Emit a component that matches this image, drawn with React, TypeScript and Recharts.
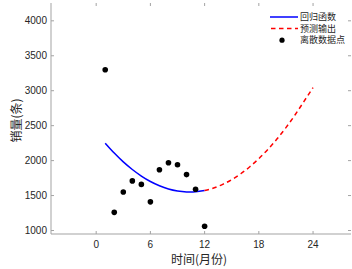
import React from 'react';
import { ComposedChart, Line, Scatter, XAxis, YAxis, Legend } from 'recharts';

// observed monthly sales
const months = [1, 2, 3, 4, 5, 6, 7, 8, 9, 10, 11, 12];
const sales = [3300, 1260, 1550, 1710, 1660, 1410, 1870, 1970, 1940, 1800, 1590, 1060];

// regression curve
const fitMonths = [1, 2, 3, 4, 5, 6, 7, 8, 9, 10, 11, 12];
const fitSales = [2250, 2108, 1982, 1873, 1779, 1701, 1640, 1594, 1565, 1551, 1553, 1572];

// forecast part of the curve
const forecastMonths = [12, 13, 14, 15, 16, 17, 18, 19, 20, 21, 22, 23, 24];
const forecastSales = [1572, 1608, 1660, 1728, 1812, 1912, 2028, 2160, 2308, 2472, 2652, 2848, 3045];

const xTicks = [0, 6, 12, 18, 24];
const yTicks = [1000, 1500, 2000, 2500, 3000, 3500, 4000];
const seriesNames = ['回归函数', '预测输出', '离散数据点'];

const X_DOMAIN: [number, number] = [-5, 28.2];
const Y_DOMAIN: [number, number] = [950, 4255];

const PLOT_LEFT = 51;
const PLOT_RIGHT = 351;
const PLOT_TOP = 3;
const PLOT_BOTTOM = 234;
const TICK = 3;

const AXIS = '#a3a3a3';
const TEXT = '#262626';
const NUM_FONT = '"Liberation Sans", Arial, sans-serif';
const CJK_FONT = '"Noto Sans CJK SC", sans-serif';
const DASH = '4.5 3.5';

const toPoints = (xs: number[], ys: number[]) => xs.map((x, i) => ({ x, y: ys[i] }));

const scatterData = toPoints(months, sales);
const fitData = toPoints(fitMonths, fitSales);
const forecastData = toPoints(forecastMonths, forecastSales);

const renderXTick = (props: any) => {
  const { x, payload } = props;
  return (
    <g>
      <line x1={x} x2={x} y1={PLOT_BOTTOM} y2={PLOT_BOTTOM - TICK} stroke={AXIS} />
      <line x1={x} x2={x} y1={PLOT_TOP} y2={PLOT_TOP + TICK} stroke={AXIS} />
      <text x={x} y={248} textAnchor="middle" fontSize={10} fontFamily={NUM_FONT} fill={TEXT}>
        {payload.value}
      </text>
    </g>
  );
};

const renderYTick = (props: any) => {
  const { y, payload } = props;
  return (
    <g>
      <line x1={PLOT_LEFT} x2={PLOT_LEFT + TICK} y1={y} y2={y} stroke={AXIS} />
      <line x1={PLOT_RIGHT} x2={PLOT_RIGHT - TICK} y1={y} y2={y} stroke={AXIS} />
      <text x={47} y={y} dy="0.35em" textAnchor="end" fontSize={10} fontFamily={NUM_FONT} fill={TEXT}>
        {payload.value}
      </text>
    </g>
  );
};

const renderLegend = () => (
  <svg width={84} height={40} style={{ display: 'block' }}>
    {seriesNames.map((name, i) => {
      const cy = 9 + i * 11.6;
      return (
        <g key={name}>
          {i === 0 && <line x1={2} x2={30} y1={cy} y2={cy} stroke="#0000ff" strokeWidth={1.5} />}
          {i === 1 && (
            <line x1={3} x2={30} y1={cy} y2={cy} stroke="#ff0000" strokeWidth={1.5} strokeDasharray={DASH} />
          )}
          {i === 2 && <circle cx={14} cy={cy} r={2.6} fill="#000" />}
          <text x={32} y={cy} dy="0.35em" fontSize={9} fontFamily={CJK_FONT} fill={TEXT}>
            {name}
          </text>
        </g>
      );
    })}
  </svg>
);

const Dot = (props: any) => <circle cx={props.cx} cy={props.cy} r={2.8} fill="#000" />;

export default function App() {
  return (
    <div style={{ position: 'absolute', left: 0, top: 0, background: '#fff' }}>
      <ComposedChart width={352} height={269} margin={{ top: PLOT_TOP, right: 1, bottom: 0, left: 0 }}>
        <XAxis
          type="number"
          dataKey="x"
          domain={X_DOMAIN}
          ticks={xTicks}
          interval={0}
          height={35}
          allowDataOverflow
          stroke={AXIS}
          tickLine={false}
          tick={renderXTick}
        />
        <XAxis
          xAxisId="top"
          orientation="top"
          type="number"
          domain={X_DOMAIN}
          height={0}
          allowDataOverflow
          stroke={AXIS}
          tick={false}
          tickLine={false}
        />
        <YAxis
          type="number"
          domain={Y_DOMAIN}
          ticks={yTicks}
          interval={0}
          width={PLOT_LEFT}
          allowDataOverflow
          stroke={AXIS}
          tickLine={false}
          tick={renderYTick}
        />
        <YAxis
          yAxisId="right"
          orientation="right"
          type="number"
          domain={Y_DOMAIN}
          width={0}
          allowDataOverflow
          stroke={AXIS}
          tick={false}
          tickLine={false}
        />
        <Legend
          layout="vertical"
          align="center"
          verticalAlign="middle"
          content={renderLegend}
          wrapperStyle={{ left: 268, top: 8, width: 84, height: 40 }}
        />
        <Line
          data={fitData}
          dataKey="y"
          name={seriesNames[0]}
          type="natural"
          stroke="#0000ff"
          strokeWidth={1.5}
          dot={false}
          activeDot={false}
          isAnimationActive={false}
        />
        <Line
          data={forecastData}
          dataKey="y"
          name={seriesNames[1]}
          type="natural"
          stroke="#ff0000"
          strokeWidth={1.5}
          strokeDasharray={DASH}
          dot={false}
          activeDot={false}
          isAnimationActive={false}
        />
        <Scatter
          data={scatterData}
          dataKey="y"
          name={seriesNames[2]}
          fill="#000"
          shape={Dot}
          isAnimationActive={false}
        />
        <text
          x={15}
          y={(PLOT_TOP + PLOT_BOTTOM) / 2 + 2}
          transform={`rotate(-90, 15, ${(PLOT_TOP + PLOT_BOTTOM) / 2 + 2})`}
          textAnchor="middle"
          dominantBaseline="central"
          fontSize={12}
          fontFamily={CJK_FONT}
          fill={TEXT}
        >
          销量(条)
        </text>
        <text x={199} y={264} textAnchor="middle" fontSize={12} fontFamily={CJK_FONT} fill={TEXT}>
          时间(月份)
        </text>
      </ComposedChart>
    </div>
  );
}
